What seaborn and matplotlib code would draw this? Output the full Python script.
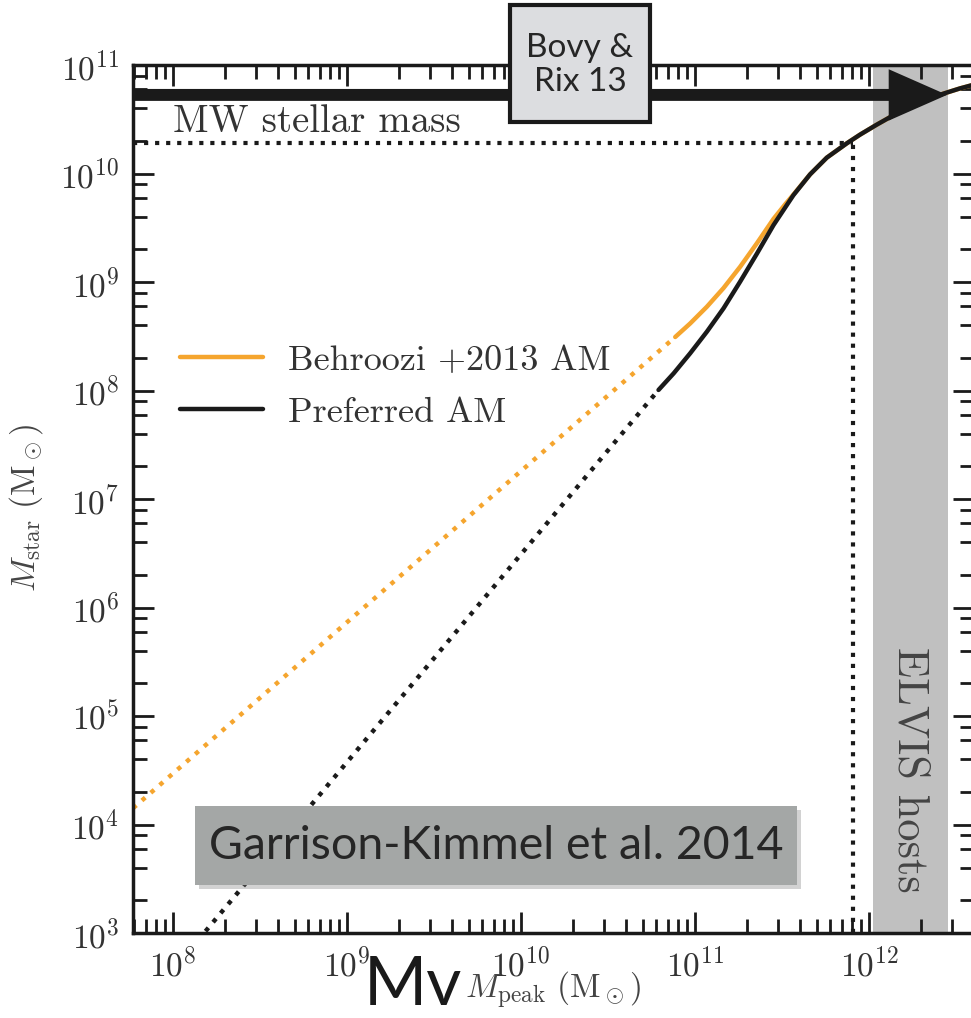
import numpy as np
import matplotlib
matplotlib.use("Agg")
import matplotlib.pyplot as plt
from matplotlib.patches import FancyArrowPatch, Rectangle
from matplotlib.ticker import LogLocator, NullFormatter
import seaborn as sns

# values (log10 of Mpeak and Mstar)
behroozi_dot_logm = [7.77, 10.886]
behroozi_dot_logs = [4.15, 8.493]
behroozi_logm = [10.886, 10.972, 11.068, 11.164, 11.259, 11.355, 11.451, 11.52, 11.565,
                 11.661, 11.757, 11.872, 11.948, 12.044, 12.139, 12.235, 12.331, 12.427,
                 12.522, 12.603]
behroozi_logs = [8.493, 8.618, 8.772, 8.945, 9.140, 9.356, 9.582, 9.72, 9.805,
                 9.992, 10.146, 10.278, 10.358, 10.45, 10.536, 10.613, 10.68, 10.736,
                 10.784, 10.819]

pref_dot_logm = [8.10, 10.790]
pref_dot_logs = [2.85, 8.005]
pref_logm = [10.790, 10.877, 10.972, 11.068, 11.164, 11.259, 11.355, 11.451, 11.565,
             11.661, 11.757, 11.872, 11.948, 12.044, 12.139, 12.235, 12.331, 12.427,
             12.522, 12.603]
pref_logs = [8.005, 8.158, 8.343, 8.542, 8.758, 9.003, 9.26, 9.525, 9.80,
             9.992, 10.146, 10.278, 10.358, 10.45, 10.536, 10.613, 10.68, 10.736,
             10.784, 10.819]

mw_mstar = 1.9e10      # dotted horizontal
mw_mpeak = 8.1e11      # dotted vertical
arrow_mstar = 5.3e10   # Bovy & Rix arrow
arrow_end = 10**12.448
elvis_lo, elvis_hi = 1.05e12, 2.84e12
xlim = (10**7.77, 10**12.603)
ylim = (1e3, 1e11)

ORANGE = "#f5a52e"

sns.set_theme(style="ticks")
plt.rcParams["font.family"] = ["cmr10", "DejaVu Serif"]
plt.rcParams["mathtext.fontset"] = "cm"
plt.rcParams["axes.unicode_minus"] = False
plt.rcParams["axes.formatter.use_mathtext"] = True

fig = plt.figure(figsize=(9.71, 10.18), dpi=100)
ax = fig.add_axes([133 / 971, 85 / 1018, 841 / 971, 868 / 1018])
ax.set_xscale("log")
ax.set_yscale("log")

ax.axvspan(elvis_lo, elvis_hi, color="#c0c0c0", lw=0, zorder=0)

# curves
sns.lineplot(x=10**np.array(behroozi_dot_logm), y=10**np.array(behroozi_dot_logs), ax=ax,
             color=ORANGE, lw=3.2, linestyle=":", sort=False, estimator=None, zorder=2)
sns.lineplot(x=10**np.array(behroozi_logm), y=10**np.array(behroozi_logs), ax=ax,
             color=ORANGE, lw=3.2, sort=False, estimator=None, zorder=2,
             label="Behroozi +2013 AM")
sns.lineplot(x=10**np.array(pref_dot_logm), y=10**np.array(pref_dot_logs), ax=ax,
             color="k", lw=3.2, linestyle=":", sort=False, estimator=None, zorder=3)
sns.lineplot(x=10**np.array(pref_logm), y=10**np.array(pref_logs), ax=ax,
             color="k", lw=3.2, sort=False, estimator=None, zorder=3,
             label="Preferred AM")

# MW stellar mass guides
ax.hlines(mw_mstar, xlim[0], mw_mpeak, colors="k", linestyles=":", lw=3, zorder=2)
ax.vlines(mw_mpeak, ylim[0], mw_mstar, colors="k", linestyles=":", lw=3, zorder=2)

arrow = FancyArrowPatch(posA=(xlim[0], arrow_mstar), posB=(arrow_end, arrow_mstar),
                        arrowstyle="simple,head_length=42,head_width=37,tail_width=8.6",
                        mutation_scale=1, lw=0, color="k", shrinkA=0, shrinkB=0,
                        zorder=5, clip_on=False)
ax.add_patch(arrow)

ax.text(1e8, 10**10.382, "MW stellar mass", fontsize=28, color="#333333",
        ha="left", va="baseline", zorder=6)
ax.text(10**12.235, 10**4.50, "ELVIS hosts", rotation=-90, fontsize=32,
        color="#444444", ha="center", va="center", zorder=6)

ax.set_xlim(*xlim)
ax.set_ylim(*ylim)

ax.xaxis.set_major_locator(LogLocator(base=10, numticks=20))
ax.xaxis.set_minor_locator(LogLocator(base=10, subs=np.arange(2, 10) * 1.0, numticks=20))
ax.yaxis.set_major_locator(LogLocator(base=10, numticks=20))
ax.yaxis.set_minor_locator(LogLocator(base=10, subs=[2.0, 4.0, 6.0, 8.0], numticks=20))
ax.xaxis.set_minor_formatter(NullFormatter())
ax.yaxis.set_minor_formatter(NullFormatter())

ax.tick_params(which="both", direction="in", top=True, right=True, width=2,
               color="k", labelcolor="#333333", labelsize=24, pad=10)
ax.tick_params(which="major", length=15)
ax.tick_params(which="minor", length=10)
for s in ax.spines.values():
    s.set_linewidth(2.5)
    s.set_color("k")

ax.set_xlabel(r"$M_{\rm peak}\ (\mathrm{M}_\odot)$", fontsize=24, color="#444444")
ax.xaxis.set_label_coords(0.5, -0.042)
ax.set_ylabel(r"$M_{\rm star}\ (\mathrm{M}_\odot)$", fontsize=24, color="#444444")
ax.yaxis.set_label_coords(-0.105, 0.49)

ax.legend(loc="upper left", bbox_to_anchor=(0.056, 0.678), frameon=False, fontsize=26,
          handlelength=2.3, handletextpad=0.7, labelspacing=0.55, borderpad=0,
          borderaxespad=0, labelcolor="#333333")

# overlay annotations (figure pixel boxes)
W, H = 971, 1018
fig.add_artist(Rectangle((510 / W, 1 - 122 / H), 140 / W, 117 / H, transform=fig.transFigure,
                         fc="#dcdde0", ec="k", lw=3, zorder=9))
fig.text(580 / W, 1 - 65 / H, "Bovy &\nRix 13", ha="center", va="center",
         fontsize=24, family="Lato", linespacing=1.15, zorder=10)

fig.add_artist(Rectangle((199 / W, 1 - 889 / H), 602 / W, 79 / H, transform=fig.transFigure,
                         fc="#808080", ec="none", alpha=0.35, zorder=8))
fig.add_artist(Rectangle((195 / W, 1 - 885 / H), 602 / W, 79 / H, transform=fig.transFigure,
                         fc="#a4a7a6", ec="none", zorder=9))
fig.text(496 / W, 1 - 846 / H, "Garrison-Kimmel et al. 2014", ha="center", va="center",
         fontsize=33.5, family="Lato", zorder=10)

fig.text(364 / W, 1 - 1005 / H, "Mv", ha="left", va="baseline", fontsize=49,
         family="Lato", color="k", zorder=10)

fig.savefig("out.png", dpi=100)
